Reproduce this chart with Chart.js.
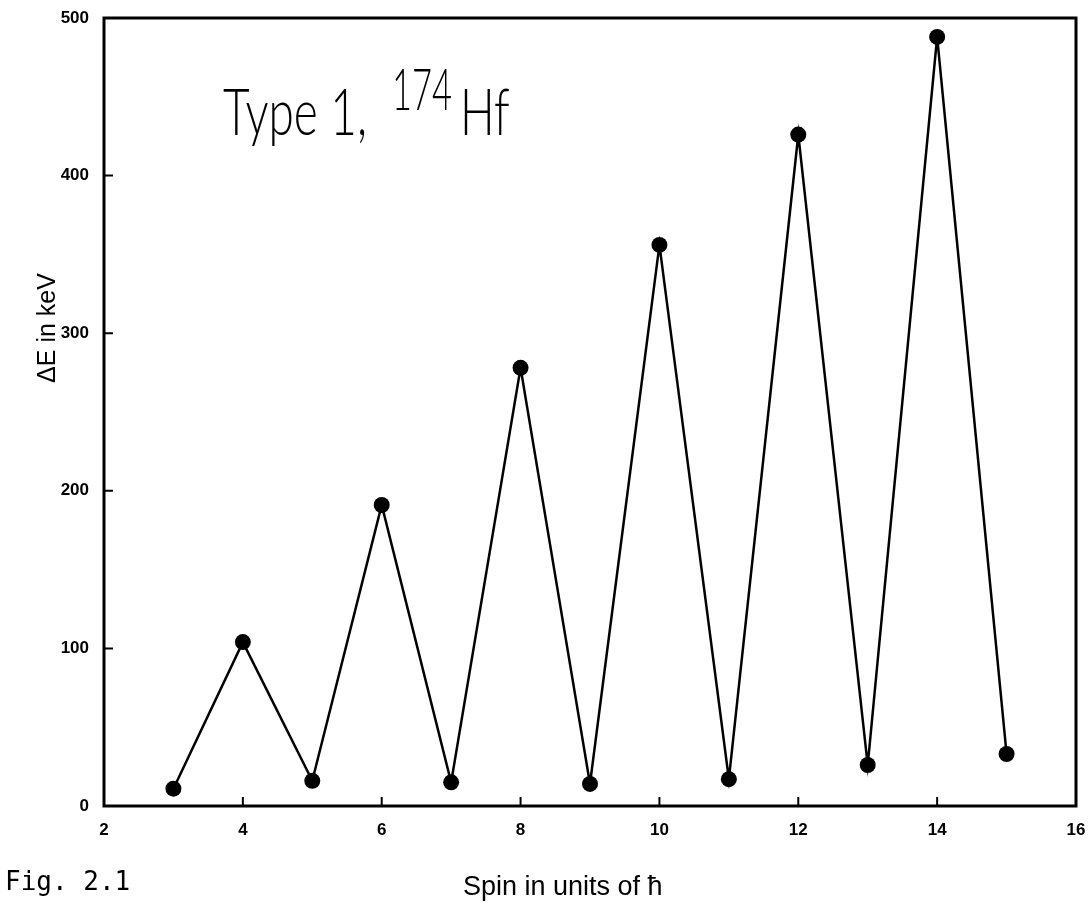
<!DOCTYPE html>
<html>
<head>
<meta charset="utf-8">
<title>Type 1, 174Hf</title>
<script src="https://cdn.jsdelivr.net/npm/chart.js@4"></script>
<style>
  html, body { margin: 0; padding: 0; background: #fff; }
  #wrap { width: 1089px; height: 909px; position: relative; }
</style>
</head>
<body>
<div id="wrap"><canvas id="deltaE"></canvas></div>
<script>
// spin (units of hbar) and level spacing dE (keV)
const spins = [3, 4, 5, 6, 7, 8, 9, 10, 11, 12, 13, 14, 15];
const deltaE = [11, 104, 16, 191, 15, 278, 14, 356, 17, 426, 26, 488, 33];

const xTicks = [2, 4, 6, 8, 10, 12, 14, 16];
const yTicks = [0, 100, 200, 300, 400, 500];

const INK = "#000";
const tickFont = { family: "'Liberation Sans', Arial, sans-serif", size: 17, weight: "bold" };

// frame, inward tick marks and the free text around the plot
const framePlugin = {
  id: "frame",
  afterDraw(chart) {
    const { ctx, chartArea: a, scales } = chart;
    ctx.save();
    ctx.strokeStyle = INK;
    ctx.lineWidth = 3;
    ctx.strokeRect(a.left, a.top, a.right - a.left, a.bottom - a.top);

    ctx.lineWidth = 2;
    ctx.beginPath();
    yTicks.slice(1, -1).forEach((v) => {
      const y = scales.y.getPixelForValue(v);
      ctx.moveTo(a.left, y);
      ctx.lineTo(a.left + 9, y);
    });
    xTicks.slice(1, -1).forEach((v) => {
      const x = scales.x.getPixelForValue(v);
      ctx.moveTo(x, a.bottom);
      ctx.lineTo(x, a.bottom - 9);
    });
    ctx.stroke();

    ctx.fillStyle = INK;
    ctx.textBaseline = "alphabetic";
    ctx.textAlign = "left";

    // title inside the plot: "Type 1, 174Hf"
    const big = "300 65px Lato, 'Liberation Sans', sans-serif";
    const sup = "300 58px Lato, 'Liberation Sans', sans-serif";
    ctx.font = big;
    const sx = 144 / ctx.measureText("Type 1,").width;
    ctx.save();
    ctx.translate(223, 135);
    ctx.scale(sx, 1);
    ctx.fillText("Type 1,", 0, 0);
    ctx.restore();

    ctx.font = sup;
    const sx2 = 60 / ctx.measureText("174").width;
    ctx.save();
    ctx.translate(392, 110);
    ctx.scale(sx2, 1);
    ctx.fillText("174", 0, 0);
    ctx.restore();

    ctx.font = big;
    ctx.save();
    ctx.translate(460, 135);
    ctx.scale(sx, 1);
    ctx.fillText("Hf", 0, 0);
    ctx.restore();

    // axis titles
    ctx.font = "27px 'Liberation Sans', 'DejaVu Sans', sans-serif";
    ctx.fillText("Spin in units of \u0127", 463, 895);

    ctx.save();
    ctx.translate(55, 328);
    ctx.rotate(-Math.PI / 2);
    ctx.textAlign = "center";
    ctx.font = "25px 'Liberation Sans', 'DejaVu Sans', sans-serif";
    ctx.fillText("\u0394E in keV", 0, 0);
    ctx.restore();

    ctx.font = "26px 'DejaVu Sans Mono', monospace";
    ctx.fillText("Fig. 2.1", 5, 890);
    ctx.restore();
  },
};

new Chart(document.getElementById("deltaE"), {
  type: "line",
  data: {
    datasets: [
      {
        data: spins.map((s, i) => ({ x: s, y: deltaE[i] })),
        borderColor: INK,
        borderWidth: 2.5,
        tension: 0,
        pointRadius: 8,
        pointBackgroundColor: INK,
        pointBorderWidth: 0,
        clip: false,
      },
    ],
  },
  options: {
    responsive: true,
    maintainAspectRatio: false,
    animation: false,
    layout: { padding: { top: 18, right: 13, left: 0, bottom: 0 } },
    plugins: { legend: { display: false }, tooltip: { enabled: false } },
    scales: {
      x: {
        type: "linear",
        min: 2,
        max: 16,
        afterBuildTicks: (axis) => {
          axis.ticks = xTicks.map((v) => ({ value: v }));
        },
        afterFit: (axis) => {
          axis.height = 103;
          axis.paddingRight = 0;
          axis.paddingLeft = 0;
        },
        grid: { display: false, drawTicks: false },
        border: { display: false },
        ticks: { color: INK, font: tickFont, padding: 14, maxRotation: 0 },
      },
      y: {
        min: 0,
        max: 500,
        afterBuildTicks: (axis) => {
          axis.ticks = yTicks.map((v) => ({ value: v }));
        },
        afterFit: (axis) => {
          axis.width = 104;
          axis.paddingTop = 0;
          axis.paddingBottom = 0;
        },
        grid: { display: false, drawTicks: false },
        border: { display: false },
        ticks: { color: INK, font: tickFont, padding: 15 },
      },
    },
  },
  plugins: [framePlugin],
});
</script>
</body>
</html>
